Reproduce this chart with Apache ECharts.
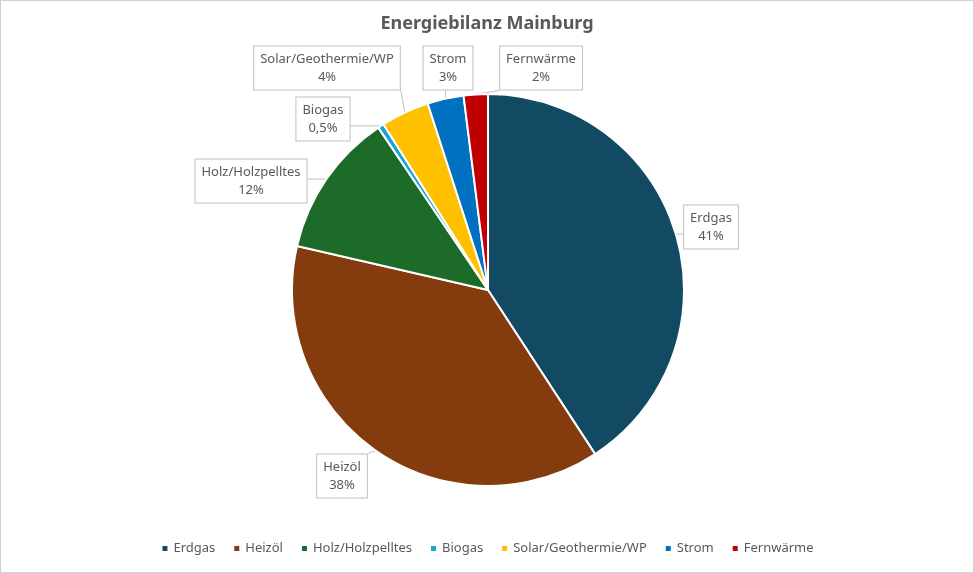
<!DOCTYPE html>
<html>
<head>
<meta charset="utf-8">
<title>Energiebilanz Mainburg</title>
<script src="https://cdn.jsdelivr.net/npm/echarts@6/dist/echarts.min.js"></script>
<style>
  html, body { margin: 0; padding: 0; background: #fff; }
  #chart { width: 972px; height: 571px; border: 1px solid #d0d0d0; }
</style>
</head>
<body>
<div id="chart"></div>
<script>
// Anteile der Energieträger (in %)
var categories = ['Erdgas', 'Heizöl', 'Holz/Holzpelltes', 'Biogas', 'Solar/Geothermie/WP', 'Strom', 'Fernwärme'];
var shares = [41, 38, 12, 0.5, 4, 3, 2];
var colors = ['#124a63', '#843c0f', '#1c6b28', '#1aa3d9', '#ffc000', '#0070c0', '#c00000'];

// Lage der Beschriftungskästen (Mitte, in Pixel), wie im Original von Hand gesetzt
var labelSpots = [
  [710, 226], [341, 475], [250, 180], [322, 118], [326, 67], [447, 67], [540, 67]
];

var chart = echarts.init(document.getElementById('chart'));

var pieData = categories.map(function (name, i) {
  return { name: name, value: shares[i], itemStyle: { color: colors[i] } };
});

function fmtPct(v) {
  return String(v).replace('.', ',') + '%';
}

var option = {
  animation: false,
  textStyle: { fontFamily: 'Noto Sans' },
  title: {
    text: 'Energiebilanz Mainburg',
    left: 'center',
    top: 9,
    textStyle: { fontSize: 18, fontWeight: 'bold', color: '#595959', fontFamily: 'Noto Sans' }
  },
  legend: {
    bottom: 12,
    left: 'center',
    icon: 'rect',
    itemWidth: 7,
    itemHeight: 7,
    itemGap: 17,
    textStyle: { fontSize: 13, color: '#595959' },
    data: categories
  },
  series: [{
    type: 'pie',
    center: [487, 289],
    radius: 196,
    startAngle: 90,
    clockwise: true,
    avoidLabelOverlap: false,
    itemStyle: { borderColor: '#fff', borderWidth: 2 },
    label: {
      show: true,
      position: 'outside',
      formatter: function (p) { return p.name + '\n' + fmtPct(p.value); },
      color: '#595959',
      fontSize: 13,
      lineHeight: 18,
      align: 'center',
      backgroundColor: '#fff',
      borderColor: '#bfbfbf',
      borderWidth: 1,
      padding: [4, 6, 3, 6]
    },
    labelLine: {
      show: true,
      length: 10,
      length2: 0,
      lineStyle: { color: '#bfbfbf', width: 1 }
    },
    labelLayout: function (params) {
      var spot = labelSpots[params.dataIndex];
      var w = params.labelRect.width, h = params.labelRect.height;
      var p0 = params.labelLinePoints ? params.labelLinePoints[0] : spot;
      var x0 = spot[0] - w / 2, x1 = spot[0] + w / 2;
      var y0 = spot[1] - h / 2, y1 = spot[1] + h / 2;
      var bx = Math.min(Math.max(p0[0], x0), x1);
      var by = Math.min(Math.max(p0[1], y0), y1);
      return {
        x: spot[0],
        y: spot[1],
        align: 'center',
        verticalAlign: 'middle',
        labelLinePoints: [p0, [bx, by]]
      };
    },
    data: pieData
  }]
};

chart.setOption(option);
</script>
</body>
</html>
